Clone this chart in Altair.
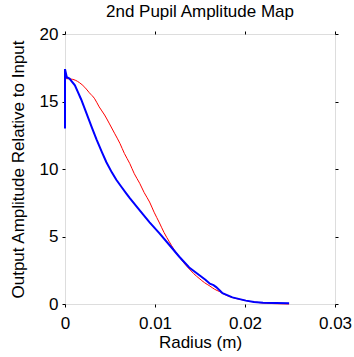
import altair as alt
import pandas as pd

# Blue: measured 2nd pupil amplitude (noisy), red: target profile
blue_r = [0, 0, 0.0002, 0.0005, 0.0011, 0.0014, 0.0018, 0.0022, 0.0026, 0.0030, 0.0035,
          0.0041, 0.0046, 0.0052, 0.0057, 0.0063, 0.0068, 0.0072, 0.0081, 0.0086,
          0.0094, 0.0105, 0.0116, 0.0127, 0.0138, 0.0149, 0.0156, 0.0161,
          0.0165, 0.0168, 0.0172, 0.0175, 0.0186, 0.0201, 0.0210, 0.0220, 0.0235, 0.0249]
blue_a = [13.0, 17.4, 16.8, 16.7, 16.2, 15.75, 15.15, 14.45, 13.75, 13.05, 12.2,
          11.25, 10.5, 9.75, 9.2, 8.65, 8.2, 7.85, 7.1, 6.7,
          6.05, 5.23, 4.37, 3.5, 2.7, 2.15, 1.8, 1.5,
          1.4, 1.25, 1.0, 0.8, 0.49, 0.25, 0.15, 0.1, 0.07, 0.05]

red_r = [0, 0.0008, 0.0016, 0.0022, 0.0027, 0.0033, 0.0038, 0.0044, 0.0049, 0.0055,
         0.0061, 0.0066, 0.0072, 0.0077, 0.0083, 0.0088, 0.0094, 0.0099, 0.0105,
         0.0110, 0.0116, 0.0121, 0.0127, 0.0132, 0.0138, 0.0143, 0.0149, 0.0155,
         0.0161, 0.0166, 0.0172, 0.0177, 0.0183, 0.0194, 0.0205, 0.0216, 0.0232, 0.0249]
red_a = [16.7, 16.65, 16.4, 16.05, 15.65, 15.2, 14.6, 14.0, 13.4, 12.65,
         11.9, 11.15, 10.4, 9.65, 8.94, 8.25, 7.55, 6.8, 6.0,
         5.3, 4.6, 4.05, 3.5, 3.05, 2.6, 2.25, 1.9, 1.58,
         1.33, 1.1, 0.91, 0.72, 0.54, 0.35, 0.2, 0.1, 0.03, 0.0]

x_ticks = [0, 0.01, 0.02, 0.03]
y_ticks = [0, 5, 10, 15, 20]

blue_df = pd.DataFrame({"r": blue_r, "a": blue_a, "i": range(len(blue_r))})
red_df = pd.DataFrame({"r": red_r, "a": red_a, "i": range(len(red_r))})

FONT = "Liberation Sans"
xs = alt.Scale(domain=[0, 0.03], nice=False, zero=False)
ys = alt.Scale(domain=[0, 20], nice=False, zero=False)

x_main = alt.X("r:Q", scale=xs, title="Radius (m)",
               axis=alt.Axis(values=x_ticks, format="~g", grid=False, domain=False, tickSize=3,
                             tickColor="black", labelPadding=8, labelFontSize=17,
                             labelFont=FONT, labelColor="black", titleFont=FONT,
                             titleFontSize=17, titleFontWeight="normal", titleColor="black",
                             titlePadding=3, labelFlush=False, labelOverlap=False))
y_main = alt.Y("a:Q", scale=ys, title="Output Amplitude Relative to Input",
               axis=alt.Axis(values=y_ticks, grid=False, domain=False, tickSize=3,
                             tickColor="black", labelPadding=4, labelFontSize=17,
                             labelFont=FONT, labelColor="black", titleFont=FONT,
                             titleFontSize=17, titleFontWeight="normal", titleColor="black",
                             titlePadding=12, labelFlush=False, labelOverlap=False))

red = alt.Chart(red_df).mark_line(color="#ff0000", strokeWidth=1, interpolate="monotone").encode(
    x=x_main, y=y_main, order="i:Q")

blue = alt.Chart(blue_df).mark_line(color="#0000ff", strokeWidth=2).encode(
    x=alt.X("r:Q", scale=xs), y=alt.Y("a:Q", scale=ys), order="i:Q")

frame_ticks = alt.Chart(red_df).mark_point(opacity=0).encode(
    x=alt.X("r:Q", scale=xs, title=None,
            axis=alt.Axis(orient="top", values=x_ticks, labels=False, grid=False,
                          domain=False, tickSize=3, tickColor="black")),
    y=alt.Y("a:Q", scale=ys, title=None,
            axis=alt.Axis(orient="right", values=y_ticks, labels=False, grid=False,
                          domain=False, tickSize=3, tickColor="black")))

chart = alt.layer(alt.layer(red, blue), frame_ticks).resolve_scale(
    x="independent", y="independent"
).properties(
    width=270, height=270,
    title=alt.TitleParams("2nd Pupil Amplitude Map", font=FONT, fontSize=17,
                          fontWeight="normal", color="black", offset=4),
    autosize=alt.AutoSizeParams(type="none"),
    padding={"left": 65, "top": 34, "right": 19, "bottom": 53},
).configure_view(stroke="black", strokeWidth=1).configure(background="white")

chart.save("out.html", embed_options={"renderer": "svg", "actions": False})
